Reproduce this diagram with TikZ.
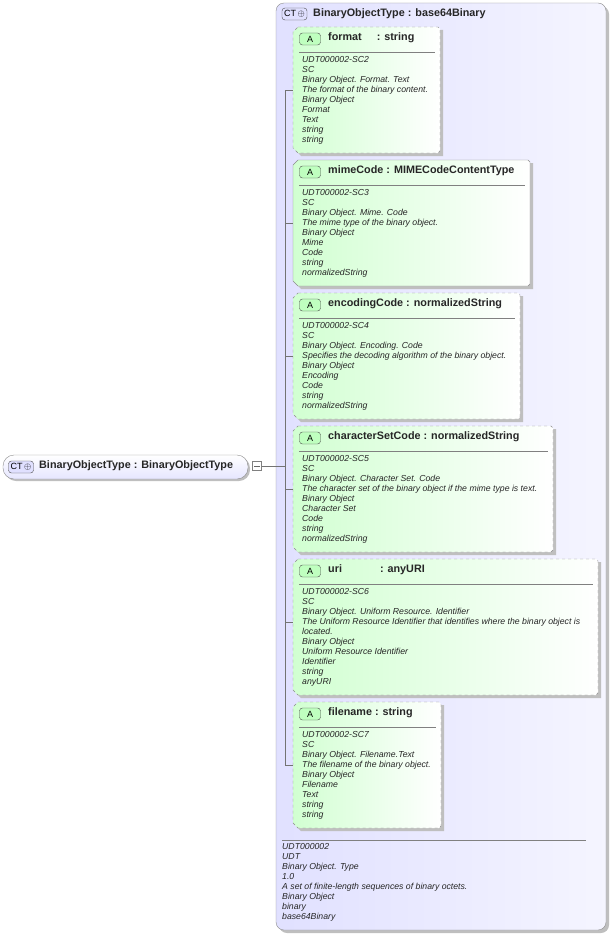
\documentclass[tikz,border=0pt]{standalone}
\usepackage{fontspec}
\setmainfont{Liberation Sans}
\begin{document}
\begin{tikzpicture}[x=1pt,y=-1pt,
  itxt/.style={font=\fontsize{8.7}{10}\selectfont\itshape,align=left,inner sep=0,anchor=north west,text=black!85},
  ttl/.style={font=\fontsize{10.8}{12}\selectfont\bfseries,inner sep=0,anchor=west,text=black!85},
  badge/.style={draw=black!70,rounded corners=3pt,fill=green!25,font=\fontsize{9}{9}\selectfont,inner sep=0,minimum width=21,minimum height=12},
  ctbadge/.style={draw=black!70,rounded corners=3pt,fill=blue!12,font=\fontsize{9}{9}\selectfont,inner sep=0,minimum width=25,minimum height=12},
  conn/.style={draw=black!55,line width=0.6pt}]
\useasboundingbox (0,0) rectangle (610,934);
% outer complex type
\fill[black!25,rounded corners=8] (279,6) rectangle (609,933);
\shade[left color=blue!12,right color=blue!4,draw=black!45,rounded corners=8] (276,3) rectangle (606,930);
\node[ctbadge] (ct2) at (294.5,14) {CT\,$\oplus$};
\node[ttl] (t2) at (313,14) {BinaryObjectType : base64Binary};
% attribute macro
\newcommand\attrbox[8]{% name,x1,y1,x2,y2,style,title,lines
  \fill[black!25] (#2+3,#3+3) -- (#4+3,#3+3) -- (#4+3,#5+3) -- (#2+8,#5+3) -- (#2+3,#5-2) -- cycle;
  \shade[left color=green!18,right color=white,draw=black!45,#6]
    (#2+5,#3) -- (#4-2,#3) -- (#4,#3+2) -- (#4,#5-2) -- (#4-2,#5) -- (#2+5,#5) -- (#2,#5-5) -- (#2,#3+5) -- cycle;
  \node[badge] (#1b) at (#2+17,#3+12) {A};
  \node[ttl] (#1t) at (#2+35,#3+11) {#7};
  \draw[black!50] (#2+6,#3+25) -- (#4-5,#3+25);
  \node[itxt] (#1x) at (#2+9,#3+29) {#8};
  \coordinate (#1c) at (#2,#3+63);
}
\attrbox{fmt}{293}{27}{440}{153}{dashed}{format\hspace{15pt}: string}{UDT000002-SC2\\SC\\Binary Object. Format. Text\\The format of the binary content.\\Binary Object\\Format\\Text\\string\\string}
\attrbox{mime}{293}{160}{530}{286}{}{mimeCode : MIMECodeContentType}{UDT000002-SC3\\SC\\Binary Object. Mime. Code\\The mime type of the binary object.\\Binary Object\\Mime\\Code\\string\\normalizedString}
\attrbox{enc}{293}{293}{520}{419}{dashed}{encodingCode : normalizedString}{UDT000002-SC4\\SC\\Binary Object. Encoding. Code\\Specifies the decoding algorithm of the binary object.\\Binary Object\\Encoding\\Code\\string\\normalizedString}
\attrbox{chs}{293}{426}{553}{552}{dashed}{characterSetCode : normalizedString}{UDT000002-SC5\\SC\\Binary Object. Character Set. Code\\The character set of the binary object if the mime type is text.\\Binary Object\\Character Set\\Code\\string\\normalizedString}
\attrbox{uri}{293}{559}{598}{695}{dashed}{uri\hspace{38pt}: anyURI}{UDT000002-SC6\\SC\\Binary Object. Uniform Resource. Identifier\\The Uniform Resource Identifier that identifies where the binary object is\\located.\\Binary Object\\Uniform Resource Identifier\\Identifier\\string\\anyURI}
\attrbox{fil}{293}{702}{441}{828}{dashed}{filename : string}{UDT000002-SC7\\SC\\Binary Object. Filename.Text\\The filename of the binary object.\\Binary Object\\Filename\\Text\\string\\string}
% bottom annotation
\draw[black!50] (282,840) -- (586,840);
\node[itxt] (doc) at (282,843) {UDT000002\\UDT\\Binary Object. Type\\1.0\\A set of finite-length sequences of binary octets.\\Binary Object\\binary\\base64Binary};
% left element
\fill[black!25,rounded corners=11] (5,457) rectangle (250,481);
\shade[top color=white,bottom color=blue!10,draw=black!45,rounded corners=11] (3,455) rectangle (248,479);
\node[ctbadge] (ct1) at (21,467) {CT\,$\oplus$};
\node[ttl] (root) at (39,466) {BinaryObjectType : BinaryObjectType};
\node[draw=black!50,fill=white,minimum size=9,inner sep=0] (minus) at (257,466) {};
\draw[black!60] (254,466) -- (260,466);
% tree
\coordinate (tr) at (285,466);
\draw[conn] (minus.east) -- (tr);
\draw[conn] (285,90) -- (285,765);
\foreach \n in {fmt,mime,enc,chs,uri,fil}{\draw[conn] (\n c -| tr) -- (\n c);}
\end{tikzpicture}
\end{document}
